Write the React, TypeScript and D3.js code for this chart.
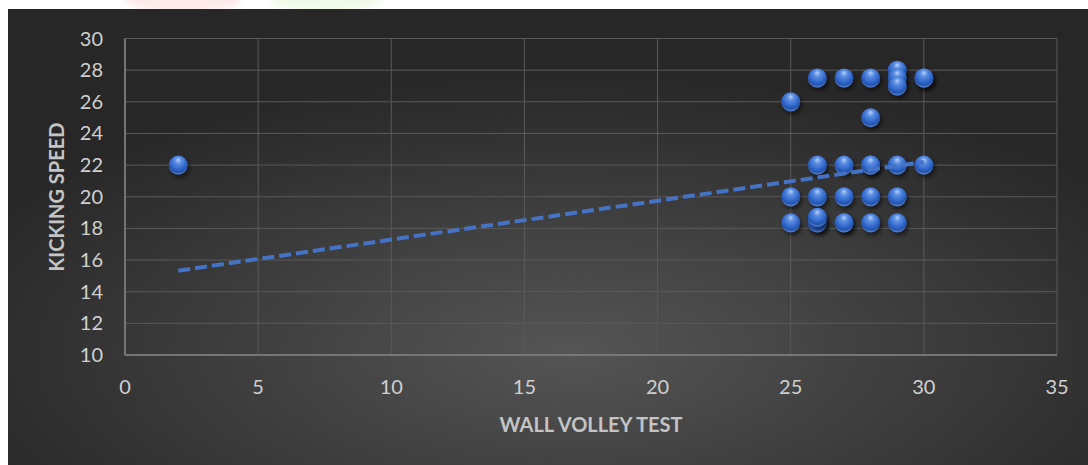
import React from "react";
import * as d3 from "d3";

const wallVolley = [2, 25, 26, 27, 28, 29, 29, 29, 30, 30, 28, 26, 27, 28, 28, 29, 30, 25, 26, 27, 28, 29, 25, 26, 26, 26, 27, 27, 28, 29];
const kickingSpeed = [22, 26, 27.5, 27.5, 27.5, 28, 27.5, 27, 27.5, 27.5, 25, 22, 22, 22, 22, 22, 22, 20, 20, 20, 20, 20, 18.35, 18.35, 18.35, 18.7, 18.35, 18.35, 18.35, 18.35];
const trendX = [2, 30];
const trendY = [15.33, 22.2];
const xTicks = [0, 5, 10, 15, 20, 25, 30, 35];
const yTicks = [10, 12, 14, 16, 18, 20, 22, 24, 26, 28, 30];
const xTitle = "WALL VOLLEY TEST";
const yTitle = "KICKING SPEED";

export default function App() {
  const W = 1088, H = 465;
  const x = d3.scaleLinear().domain([0, 35]).range([125, 1057]);
  const y = d3.scaleLinear().domain([10, 30]).range([355, 38.5]);
  const points = wallVolley.map((v, i) => ({ x: v, y: kickingSpeed[i] }));
  const trend = trendX.map((v, i) => ({ x: v, y: trendY[i] }));
  const line = d3.line<{ x: number; y: number }>().x((d) => x(d.x)).y((d) => y(d.y));
  const font = "Lato, 'Open Sans', sans-serif";

  return (
    <svg width={W} height={H} style={{ position: "absolute", left: 0, top: 0 }}>
      <defs>
        <radialGradient id="bg" cx="52%" cy="75%" r="62%" gradientUnits="objectBoundingBox">
          <stop offset="0%" stopColor="#555555" />
          <stop offset="100%" stopColor="#272727" />
        </radialGradient>
        <radialGradient id="ball" cx="50%" cy="35%" r="60%" fx="50%" fy="22%">
          <stop offset="0%" stopColor="#b7d0f7" />
          <stop offset="30%" stopColor="#5a8de0" />
          <stop offset="70%" stopColor="#2f66cc" />
          <stop offset="90%" stopColor="#2552a6" />
          <stop offset="100%" stopColor="#4a78cc" />
        </radialGradient>
        <filter id="shadow" x="-50%" y="-50%" width="200%" height="200%">
          <feDropShadow dx="2" dy="3" stdDeviation="2" floodColor="#000" floodOpacity="0.55" />
        </filter>
        <filter id="blur" x="-20%" y="-100%" width="140%" height="300%">
          <feGaussianBlur stdDeviation="3" />
        </filter>
      </defs>
      <rect x={0} y={0} width={W} height={H} fill="#ffffff" />
      <ellipse cx={183} cy={0} rx={58} ry={12} fill="#fdeaea" filter="url(#blur)" />
      <ellipse cx={326} cy={0} rx={55} ry={12} fill="#f1faea" filter="url(#blur)" />
      <rect x={8} y={9} width={W - 8} height={H - 9} fill="url(#bg)" />

      {yTicks.map((t) => (
        <line key={"gy" + t} x1={x(0)} x2={x(35)} y1={y(t)} y2={y(t)} stroke="#5a5a5a" strokeWidth={1} />
      ))}
      {xTicks.map((t) => (
        <line key={"gx" + t} x1={x(t)} x2={x(t)} y1={y(10)} y2={y(30)} stroke="#5a5a5a" strokeWidth={1} />
      ))}
      <line x1={x(0)} x2={x(0)} y1={y(10)} y2={y(30)} stroke="#858585" strokeWidth={1.5} />
      <line x1={x(0)} x2={x(35)} y1={y(10)} y2={y(10)} stroke="#858585" strokeWidth={1.5} />

      {yTicks.map((t) => (
        <text key={"ty" + t} x={103} y={y(t)} dy="0.35em" textAnchor="end" fill="#d0d0d0" fontFamily={font} fontSize={20}>
          {t}
        </text>
      ))}
      {xTicks.map((t) => (
        <text key={"tx" + t} x={x(t)} y={387} dy="0.35em" textAnchor="middle" fill="#d0d0d0" fontFamily={font} fontSize={20}>
          {t}
        </text>
      ))}

      <text x={591} y={425} dy="0.35em" textAnchor="middle" fill="#c4c4c4" fontFamily={font} fontWeight="bold" fontSize={20}>
        {xTitle}
      </text>
      <text transform={`translate(57,197) rotate(-90)`} dy="0.35em" textAnchor="middle" fill="#c4c4c4" fontFamily={font} fontWeight="bold" fontSize={20}>
        {yTitle}
      </text>

      {points.map((p, i) => (
        <circle key={"p" + i} cx={x(p.x)} cy={y(p.y)} r={9.5} fill="url(#ball)" filter="url(#shadow)" />
      ))}

      <path d={line(trend) || ""} fill="none" stroke="#4472c4" strokeWidth={4} strokeDasharray="12 5" />
    </svg>
  );
}
